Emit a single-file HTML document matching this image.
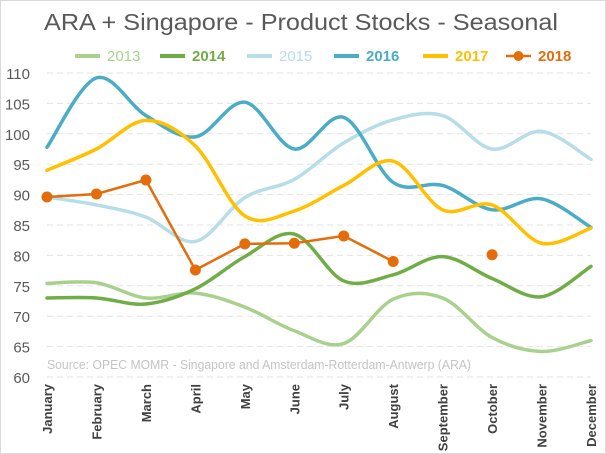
<!DOCTYPE html>
<html><head><meta charset="utf-8"><style>
html,body{margin:0;padding:0;background:#fff}
svg{display:block;font-family:"Liberation Sans",sans-serif}
</style></head><body>
<svg id="chart" width="606" height="454" viewBox="0 0 606 454">
<rect x="0.5" y="0.5" width="605" height="453" fill="#fff" stroke="#d9d9d9"/>
<text x="44" y="30" textLength="514" lengthAdjust="spacingAndGlyphs" font-size="23" fill="#595959">ARA + Singapore - Product Stocks - Seasonal</text>
<g id="grid"></g><g id="yaxis"></g><g id="xaxis"></g>
<text x="47" y="369" textLength="424" lengthAdjust="spacingAndGlyphs" font-size="13" fill="#c4c4c4">Source: OPEC MOMR - Singapore and Amsterdam-Rotterdam-Antwerp  (ARA)</text>
<g id="series"></g><g id="legend"></g>
</svg>
<script>
const months=["January","February","March","April","May","June","July","August","September","October","November","December"];
const yTicks=[60,65,70,75,80,85,90,95,100,105,110];
const seriesNames=["2013","2014","2015","2016","2017","2018"];
const s2013=[75.4,75.5,73,73.8,71.5,67.6,65.5,72.8,73,66.5,64.2,66];
const s2014=[73,73,72,74.5,79.8,83.5,75.8,76.8,79.8,76.2,73.2,78.2];
const s2015=[89.6,88.3,86.3,82.3,89.5,92.5,98.5,102.3,103,97.5,100.4,95.8];
const s2016=[97.8,109.2,103,99.5,105.2,97.5,102.7,92,91.5,87.5,89.3,84.6];
const s2017=[94,97.5,102.2,98,86.5,87.3,91.5,95.5,87.5,88.3,82,84.5];
const s2018=[89.6,90.1,92.4,77.6,81.9,82.0,83.2,79.0,null,80.1,null,null];
const colors=["#a9d18e","#70ad47","#b7dde8","#4bacc6","#ffc000","#e46c0a"];
const NS="http://www.w3.org/2000/svg";
const x=i=>47+i*(591-47)/11;
const y=v=>377-(v-60)*(377-73)/50;
function mk(tag,attrs,parent){const e=document.createElementNS(NS,tag);for(const k in attrs)e.setAttribute(k,attrs[k]);parent.appendChild(e);return e;}
const grid=document.getElementById('grid'),ya=document.getElementById('yaxis'),xa=document.getElementById('xaxis');
yTicks.forEach(t=>{
  const l=mk('line',{x1:47,x2:591,y1:y(t),y2:y(t),stroke:'#e3e3e3','stroke-dasharray':'6,4'},grid);
  
  
  const tx=mk('text',{x:30,y:y(t)+6,'text-anchor':'end','font-size':15,fill:'#595959'},ya);
  tx.textContent=t;
  
  
});
months.forEach((m,i)=>{
  const tx=mk('text',{transform:`translate(${x(i)+5},384) rotate(-90)`,'text-anchor':'end','font-size':13,'font-weight':'bold',fill:'#404040'},xa);
  tx.textContent=m;
  
  
});
function smooth(vals){
  const p=vals.map((v,i)=>[x(i),y(v)]);let d=`M${p[0][0]},${p[0][1]}`;
  for(let i=0;i<p.length-1;i++){const p0=p[i-1]||p[i],p1=p[i],p2=p[i+1],p3=p[i+2]||p2;
    const c1=[p1[0]+(p2[0]-p0[0])/6,p1[1]+(p2[1]-p0[1])/6],c2=[p2[0]-(p3[0]-p1[0])/6,p2[1]-(p3[1]-p1[1])/6];
    d+=` C${c1[0]},${c1[1]} ${c2[0]},${c2[1]} ${p2[0]},${p2[1]}`;}
  return d;
}
const sg=document.getElementById('series');
[s2013,s2014,s2015,s2016,s2017].forEach((s,k)=>{
  const p=mk('path',{d:smooth(s),fill:'none',stroke:colors[k],'stroke-width':3.5,'stroke-linecap':'round'},sg);
  
  
});
let d='',pen=false;
s2018.forEach((v,i)=>{if(v==null){pen=false;return;}d+=(pen?'L':'M')+x(i)+','+y(v)+' ';pen=true;});
const p18=mk('path',{d:d,fill:'none',stroke:colors[5],'stroke-width':2.5},sg);


s2018.forEach((v,i)=>{if(v==null)return;
  const c=mk('circle',{cx:x(i),cy:y(v),r:5.5,fill:colors[5]},sg);
  
  
});
const lg=document.getElementById('legend');
const lx=[75,160,247,334,423,506];
seriesNames.forEach((n,k)=>{
  const g=mk('g',{},lg);
  
  
  mk('line',{x1:lx[k],x2:lx[k]+25,y1:56,y2:56,stroke:colors[k],'stroke-width':k==5?2.5:4},g);
  if(k==5)mk('circle',{cx:lx[k]+12.5,cy:56,r:5,fill:colors[k]},g);
  const t=mk('text',{x:lx[k]+32,y:61,'font-size':15,fill:colors[k],'font-weight':(k==1||k==3||k==4||k==5)?'bold':'normal'},g);
  t.textContent=n;
});
</script>
</body></html>
